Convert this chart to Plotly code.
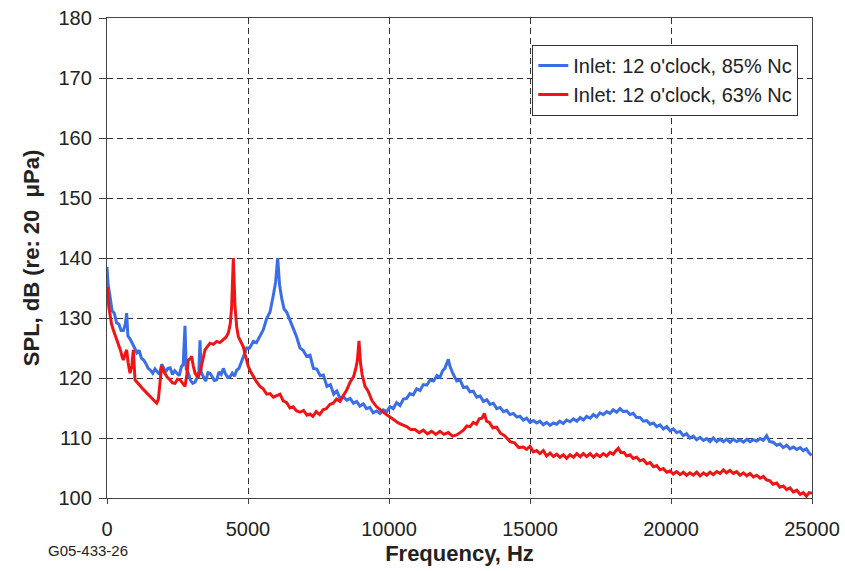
import plotly.graph_objects as go

# Blue series: Inlet 12 o'clock, 85% Nc  (frequency in Hz, SPL in dB)
freq_85 = [0, 40, 100, 180, 260, 340, 420, 500, 580, 650,
           697, 740, 820, 900, 980, 1060, 1140, 1220, 1300, 1380,
           1460, 1540, 1620, 1700, 1780, 1860, 1940, 2000, 2080, 2160,
           2240, 2320, 2400, 2480, 2560, 2640, 2700, 2766, 2810, 2884,
           2960, 3040, 3121, 3200, 3260, 3298, 3340, 3416, 3500, 3580,
           3652, 3730, 3810, 3889, 3970, 4050, 4125, 4200, 4280, 4362,
           4440, 4520, 4598, 4680, 4775, 4860, 4953, 5060, 5189, 5300,
           5426, 5540, 5662, 5780, 5898, 5980, 6053, 6120, 6194, 6280,
           6380, 6489,
           6600, 6720, 6844, 6960, 7080, 7199, 7320, 7440, 7560, 7671,
           7800, 7920, 8040, 8150, 8262, 8380, 8500, 8620, 8740, 8853,
           8970, 9090, 9200, 9320, 9440, 9563, 9680, 9800, 9920, 10035,
           10150, 10270, 10390, 10510, 10626, 10740, 10860, 10980, 11100, 11217,
           11340, 11460, 11580, 11700, 11808, 11900, 11980, 12060, 12104, 12160,
           12260, 12400, 12520, 12640, 12760, 12870, 12990, 13110, 13230, 13350,
           13470, 13581, 13700, 13820, 13940, 14060, 14173, 14290, 14410, 14530,
           14650, 14764, 14880, 15000, 15120, 15236, 15350, 15473, 15590, 15710,
           15830, 15946, 16060, 16180, 16300, 16418, 16540, 16660, 16780, 16891,
           17010, 17130, 17250, 17364, 17480, 17600, 17720, 17837, 17950, 18070,
           18191, 18310, 18430, 18546, 18660, 18780, 18900, 19019, 19140, 19260,
           19380, 19492, 19610, 19730, 19850, 19965, 20080, 20200, 20320, 20437,
           20550, 20670, 20790, 20910, 21030, 21150, 21270, 21383, 21500, 21620,
           21740, 21856, 21970, 22090, 22210, 22329, 22450, 22570, 22690, 22801,
           22920, 23040, 23160, 23274, 23392, 23500, 23620, 23747, 23860, 23980,
           24100, 24220, 24340, 24460, 24580, 24693, 24800, 24900, 24988]
spl_85 = [138.5, 135.5, 133.8, 131.2, 130.8, 129.2, 129.0, 127.9, 127.9, 129.0,
          130.8, 127.0, 126.5, 125.6, 125.0, 124.2, 124.6, 123.3, 123.0, 122.4,
          121.6, 121.3, 120.8, 121.5, 121.1, 120.6, 122.3, 121.8, 121.0, 121.6,
          121.7, 120.6, 121.2, 120.8, 120.4, 121.9, 122.2, 128.7, 121.5, 120.8,
          119.6, 119.1, 119.3, 120.1, 121.2, 126.3, 121.0, 120.2, 119.5, 120.9,
          120.8, 120.2, 119.6, 119.7, 121.0, 120.6, 121.6, 120.7, 120.1, 120.2,
          120.8, 120.3, 121.3, 121.6, 122.8, 123.6, 125.0, 125.0, 126.1, 125.9,
          127.1, 128.0, 129.9, 131.0, 133.8, 136.0, 140.0, 135.5, 133.3, 131.5,
          130.9, 129.6,
          128.4, 126.9, 125.0, 124.6, 123.6, 123.8, 121.6, 121.5, 120.4, 120.5,
          118.6, 118.9, 117.3, 117.8, 116.6, 116.9, 116.3, 116.6, 115.8, 116.1,
          115.3, 115.7, 114.9, 115.1, 114.2, 114.5, 114.1, 114.7, 114.4, 115.2,
          114.9, 115.9, 115.4, 116.5, 116.6, 117.4, 117.2, 118.2, 117.9, 118.9,
          118.8, 119.7, 119.5, 120.4, 120.1, 121.2, 121.6, 122.8, 123.1, 122.0,
          120.8, 119.5, 119.7, 118.4, 118.5, 117.7, 117.8, 116.8, 117.0, 116.1,
          116.4, 115.6, 115.8, 114.9, 115.1, 114.4, 114.6, 113.9, 114.1, 113.5,
          113.6, 113.0, 113.3, 112.6, 112.9, 112.5, 112.8, 112.2, 112.6, 112.1,
          112.5, 112.3, 112.8, 112.4, 113.0, 112.7, 113.2, 112.8, 113.4, 113.0,
          113.6, 113.3, 113.9, 113.5, 114.2, 113.9, 114.4, 114.1, 114.7, 114.3,
          114.9, 114.4, 114.5, 113.9, 114.1, 113.4, 113.4, 112.8, 112.9, 112.3,
          112.5, 111.9, 112.2, 111.5, 111.9, 111.2, 111.5, 110.9, 111.1, 110.4,
          110.7, 110.0, 110.3, 109.7, 110.1, 109.6, 109.9, 109.4, 110.0, 109.4,
          109.8, 109.4, 109.8, 109.3, 109.8, 109.4, 109.7, 109.3, 109.8, 109.4,
          109.7, 109.5, 109.9, 109.6, 110.4, 109.4, 109.3, 108.8, 109.0, 108.4,
          108.8, 108.2, 108.5, 108.1, 108.4, 107.9, 108.2, 107.5, 107.1]

# Red series: Inlet 12 o'clock, 63% Nc
freq_63 = [0, 20, 60, 106, 160, 224, 300, 402, 480, 540, 579, 630, 697, 750, 816,
           880, 934, 993, 1080, 1170, 1250, 1330, 1407, 1490, 1570, 1643, 1710, 1761, 1820, 1880,
           1938, 2000, 2057, 2140, 2234, 2320, 2411, 2500, 2589, 2680, 2766, 2830, 2884, 2950, 3002,
           3060, 3121, 3180, 3239, 3300, 3357, 3420, 3475, 3560, 3652, 3770, 3889, 4000, 4125, 4220,
           4303, 4370, 4421, 4480, 4539, 4600, 4657, 4740, 4834, 4920, 5011, 5100, 5189, 5300, 5426,
           5540, 5662, 5780, 5898, 6020, 6135, 6250, 6371, 6489, 6600, 6726, 6850, 6970, 7090, 7199,
           7300, 7420, 7540, 7660, 7780, 7900, 8020, 8140, 8262, 8380, 8500, 8620, 8740, 8820, 8880,
           8936, 8990, 9050, 9150, 9260, 9400, 9563, 9700, 9850, 10035, 10180, 10330, 10480, 10626, 10770,
           10920, 11070, 11217, 11360, 11510, 11660, 11808, 11950, 12100, 12250, 12400, 12520, 12640, 12760, 12872,
           12990, 13100, 13200, 13300, 13380, 13460, 13560, 13680, 13818, 13950, 14100, 14291, 14450, 14600, 14764,
           14880, 15000, 15120, 15236, 15350, 15473, 15590, 15710, 15830, 15946, 16060, 16180, 16300, 16418, 16540,
           16660, 16780, 16891, 17010, 17130, 17250, 17364, 17480, 17600, 17720, 17837, 17950, 18050, 18132, 18220,
           18330, 18430, 18546, 18660, 18780, 18900, 19019, 19140, 19260, 19380, 19492, 19610, 19730, 19850, 19965,
           20080, 20200, 20320, 20437, 20550, 20670, 20790, 20910, 21030, 21150, 21270, 21383, 21500, 21620, 21740,
           21856, 21970, 22090, 22210, 22329, 22450, 22570, 22690, 22801, 22920, 23040, 23160, 23274, 23392, 23500,
           23620, 23747, 23860, 23980, 24100, 24220, 24340, 24460, 24580, 24693, 24800, 24900, 25000]
spl_63 = [134.5, 135.2, 132.0, 130.2, 129.0, 128.0, 127.0, 125.8, 124.6, 123.5, 123.0, 123.8, 124.7, 122.5, 120.8,
          122.0, 124.7, 119.7, 119.2, 118.6, 118.3, 117.9, 117.5, 117.1, 116.8, 116.4, 115.9, 115.8, 116.4, 119.0,
          122.0, 121.2, 120.8, 120.1, 119.7, 119.2, 119.1, 119.8, 119.7, 119.1, 118.6, 120.5, 123.0, 123.2, 123.6,
          122.0, 120.8, 120.4, 120.2, 121.0, 122.0, 123.5, 124.7, 125.3, 125.8, 125.6, 126.1, 125.9, 126.4, 126.8,
          127.5, 129.0, 131.9, 140.0, 131.9, 128.5, 126.9, 126.1, 125.2, 123.5, 121.9, 121.0, 120.2, 119.4, 118.6,
          118.2, 117.3, 117.4, 116.8, 117.0, 117.3, 116.2, 115.9, 115.0, 115.2, 114.5, 114.3, 114.6, 113.8, 114.0,
          113.6, 114.4, 113.9, 114.7, 114.9, 115.6, 115.8, 116.5, 116.1, 117.1, 118.0, 119.3, 120.2, 121.5, 123.0,
          126.2, 122.5, 120.5, 118.6, 117.8, 116.2, 115.2, 114.6, 114.1, 113.5, 113.0, 112.5, 112.2, 111.9, 111.4,
          111.4, 110.9, 111.3, 110.7, 111.1, 110.6, 111.1, 110.6, 110.9, 110.3, 110.5, 110.9, 111.3, 112.0, 111.9,
          112.6, 112.3, 113.2, 113.3, 114.1, 112.8, 112.6, 111.7, 111.8, 110.8, 110.4, 109.4, 109.2, 108.4, 108.5,
          108.1, 108.6, 107.7, 107.9, 107.4, 107.9, 107.0, 107.5, 106.9, 107.3, 106.8, 107.2, 106.6, 107.2, 106.8,
          107.4, 106.9, 107.4, 106.9, 107.4, 106.8, 107.3, 106.9, 107.4, 107.0, 107.6, 107.3, 107.9, 108.3, 107.6,
          107.6, 107.0, 107.2, 106.6, 106.8, 106.2, 106.4, 105.7, 105.9, 105.2, 105.4, 104.7, 104.9, 104.3, 104.5,
          104.0, 104.4, 103.9, 104.3, 103.8, 104.2, 103.8, 104.3, 103.7, 104.2, 103.8, 104.3, 103.9, 104.4, 104.1,
          104.7, 104.2, 104.6, 104.1, 104.4, 103.8, 104.2, 103.7, 104.1, 103.5, 103.8, 103.3, 103.6, 103.0, 102.9,
          102.3, 102.5, 101.8, 102.0, 101.4, 101.7, 101.0, 101.3, 100.6, 100.9, 100.3, 100.9, 100.8]

series_names = ["Inlet: 12 o'clock, 85% Nc", "Inlet: 12 o'clock, 63% Nc"]
series_colors = ["#3a6ee8", "#f01414"]

x_ticks = [0, 5000, 10000, 15000, 20000, 25000]
y_ticks = [100, 110, 120, 130, 140, 150, 160, 170, 180]

FONT = "Liberation Sans, Arial, sans-serif"

fig = go.Figure()
fig.add_trace(go.Scatter(x=freq_85, y=spl_85, mode="lines", name=series_names[0],
                         line=dict(color=series_colors[0], width=3)))
fig.add_trace(go.Scatter(x=freq_63, y=spl_63, mode="lines", name=series_names[1],
                         line=dict(color=series_colors[1], width=3)))

fig.update_layout(
    width=845, height=571,
    margin=dict(l=107, r=33, t=18, b=73),
    paper_bgcolor="white", plot_bgcolor="white",
    font=dict(family=FONT, size=20, color="#222"),
    showlegend=True,
    legend=dict(x=0.603, y=0.944, xanchor="left", yanchor="top",
                bgcolor="white", bordercolor="#333", borderwidth=1.2,
                font=dict(size=20, color="#222"), itemwidth=30,
                tracegroupgap=0),
)
fig.update_xaxes(
    range=[0, 25000], tickvals=x_ticks, ticktext=[str(v) for v in x_ticks],
    showgrid=True, gridcolor="#333", griddash="6px,4px", gridwidth=1,
    showline=True, linecolor="#444", linewidth=1.4, mirror=True,
    ticks="outside", ticklen=5, tickcolor="#444", ticklabelstandoff=8,
    zeroline=False, automargin=False,
    title=dict(text="<b>Frequency, Hz</b>", font=dict(size=22), standoff=6),
)
fig.update_yaxes(
    range=[100, 180], tickvals=y_ticks,
    showgrid=True, gridcolor="#333", griddash="6px,4px", gridwidth=1,
    showline=True, linecolor="#444", linewidth=1.4, mirror=True,
    ticks="outside", ticklen=7, tickcolor="#444", ticklabelstandoff=3,
    zeroline=False, automargin=False,
    title=dict(text="<b>SPL, dB (re: 20  \u03bcPa)</b>", font=dict(size=22), standoff=12),
)
fig.add_annotation(text="G05-433-26", xref="paper", yref="paper", x=-0.027, y=-0.110,
                   xanchor="center", yanchor="middle", showarrow=False,
                   font=dict(size=15, color="#222", family=FONT))

fig.write_html("out.html", config={"displayModeBar": False},
               post_script="document.body.style.margin='0';document.body.style.padding='0';")
